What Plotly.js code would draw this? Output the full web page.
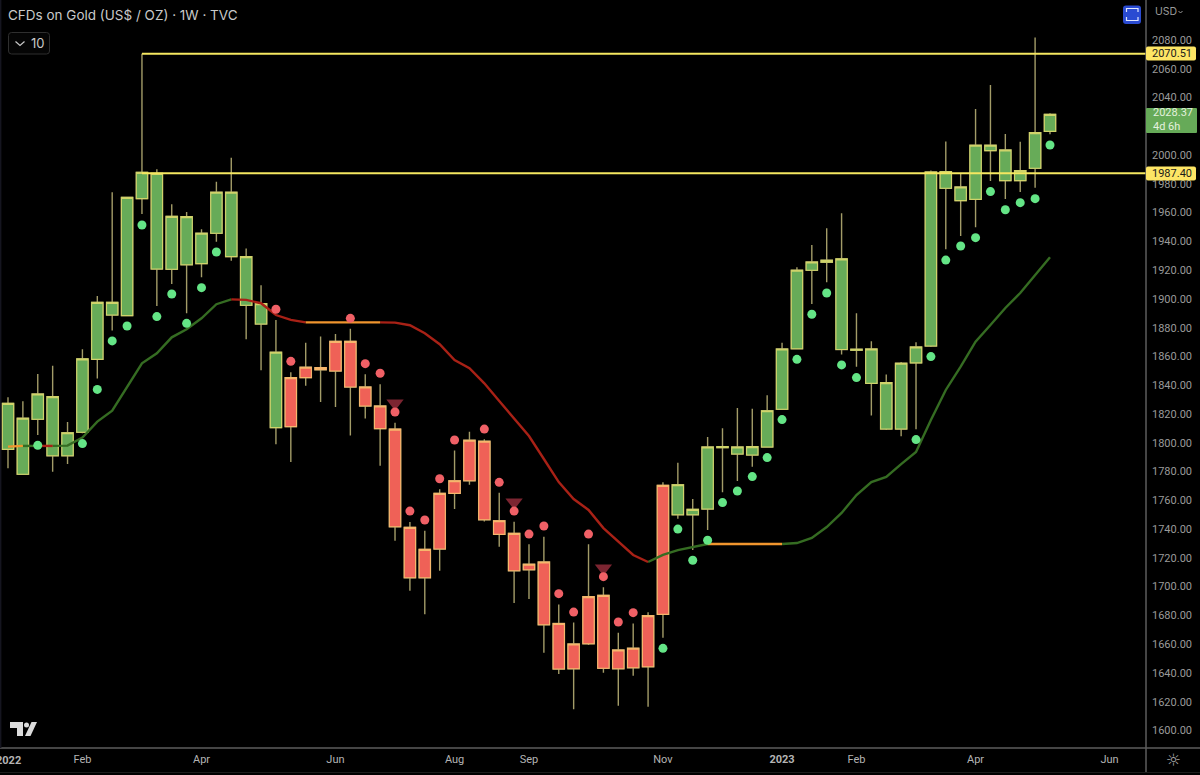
<!DOCTYPE html>
<html>
<head>
<meta charset="utf-8">
<script src="https://cdn.plot.ly/plotly-3.0.1.min.js"></script>
<style>html,body{margin:0;padding:0;background:#000;overflow:hidden}#chart{width:1200px;height:775px}</style>
</head>
<body>
<div id="chart"></div>
<script>
// Weekly candles, bar 0 .. 70, prices in US$
const bodyHigh = [1827.4,1817.0,1833.9,1832.1,1807.0,1858.3,1897.6,1897.6,1970.6,1988.0,1987.3,1957.4,1957.2,1945.6,1974.1,1974.1,1929.4,1896.7,1862.9,1845.3,1852.5,1852.2,1870.5,1870.5,1838.8,1825.6,1809.5,1741.2,1725.9,1764.8,1773.6,1801.7,1801.0,1745.8,1737.0,1715.5,1717.1,1674.4,1660.1,1693.0,1693.9,1655.9,1657.1,1679.8,1770.4,1770.8,1753.7,1797.1,1797.3,1797.1,1797.3,1822.3,1865.2,1919.9,1925.7,1926.9,1927.8,1865.0,1865.2,1841.8,1855.3,1866.6,1988.2,1988.5,1977.8,2006.8,2006.8,2003.5,1989.2,2015.6,2028.3];
const bodyLow = [1795.4,1778.1,1816.3,1791.0,1791.0,1807.3,1858.0,1888.8,1888.4,1969.7,1920.8,1920.6,1923.8,1924.5,1945.6,1929.4,1895.6,1882.6,1810.5,1811.2,1845.3,1850.8,1849.9,1838.8,1825.6,1809.8,1741.6,1706.2,1706.2,1726.1,1764.8,1773.6,1746.5,1736.3,1711.0,1711.7,1673.5,1642.7,1642.9,1660.3,1643.2,1642.9,1643.6,1644.3,1680.7,1750.0,1750.0,1754.0,1796.6,1792.2,1791.5,1797.1,1823.3,1865.4,1919.9,1925.5,1864.8,1864.3,1841.3,1809.6,1809.6,1855.5,1867.3,1976.9,1968.3,1969.2,2003.1,1982.2,1982.2,1990.8,2016.5];
const wickHigh = [1831.6,1828.8,1847.8,1853.6,1814.5,1865.0,1902.0,1974.1,1970.6,2070.51,1990.1,1965.8,1960.4,1948.4,1981.5,1998.2,1935.0,1909.5,1885.4,1849.0,1869.6,1873.8,1875.6,1879.3,1847.6,1840.6,1813.9,1744.9,1738.9,1767.6,1794.7,1807.7,1802.4,1765.3,1745.1,1729.4,1734.7,1687.6,1675.1,1729.4,1699.5,1667.9,1674.4,1682.1,1772.5,1786.1,1760.9,1804.0,1810.1,1824.2,1823.7,1833.0,1869.6,1922.0,1937.5,1949.1,1959.5,1890.0,1870.5,1847.4,1856.2,1869.9,1989.2,2009.5,1987.3,2032.0,2048.7,2014.6,2009.3,2081.8,2029.0];
const wickLow = [1782.2,1778.1,1805.4,1779.9,1785.3,1806.6,1844.6,1878.0,1888.4,1959.1,1895.1,1910.4,1890.0,1915.0,1939.8,1926.6,1871.9,1850.4,1798.9,1786.6,1839.7,1828.4,1824.9,1805.0,1816.8,1784.1,1731.9,1697.1,1680.7,1711.0,1753.9,1770.8,1745.3,1727.7,1688.6,1691.4,1654.0,1639.2,1614.7,1659.4,1640.1,1617.2,1638.1,1616.5,1664.5,1747.2,1725.4,1739.4,1765.6,1773.5,1783.4,1797.1,1823.3,1865.4,1896.5,1911.6,1861.3,1852.9,1818.9,1808.9,1804.5,1809.4,1866.5,1934.5,1943.7,1949.8,1982.0,1969.5,1974.3,1977.3,2014.4];
// Bars painted red by the indicator (first and last bar of the run)
const redRun = [19, 44];

// Moving-average line, one value per bar
const maValues = [1797.3,1797.8,1797.8,1797.8,1798.0,1803.6,1814.7,1822.3,1839.0,1855.2,1862.2,1873.3,1878.9,1886.5,1896.3,1899.7,1899.3,1897.0,1888.8,1885.4,1883.7,1883.7,1883.7,1883.7,1883.7,1883.7,1883.5,1881.7,1876.1,1868.5,1857.5,1851.8,1841.3,1829.0,1816.5,1804.7,1788.7,1772.7,1760.9,1753.3,1740.7,1731.7,1722.0,1717.1,1722.0,1725.4,1727.5,1729.6,1729.6,1729.6,1729.6,1729.6,1729.6,1730.3,1733.8,1741.4,1751.2,1763.7,1772.7,1776.2,1785.2,1793.6,1815.8,1836.7,1852.9,1870.3,1881.9,1893.7,1904.1,1916.1,1928.9];
const maGreenRuns = [[1,2],[3,15],[43,47],[52,70]];
const maRedRuns = [[2,3],[15,20],[25,43]];
const maOrangeRuns = [[0,1],[20,25],[47,52]];

// Indicator dots
const greenDotBars = [2,5,6,7,8,9,10,11,12,13,14,44,45,46,47,48,49,50,51,52,53,54,55,56,57,61,62,63,64,65,66,67,68,69,70];
const greenDotVals = [1798.2,1799.4,1837.1,1870.8,1881.2,1951.4,1887.7,1903.4,1883.0,1907.8,1932.6,1657.1,1740.0,1718.3,1732.2,1758.4,1766.5,1776.5,1789.7,1816.1,1858.0,1889.3,1904.1,1854.1,1845.3,1802.2,1859.9,1927.0,1936.8,1942.6,1974.6,1962.0,1966.9,1969.7,2007.0];
const redDotBars = [18,19,23,24,25,26,27,28,29,30,32,33,34,35,36,37,38,39,40,41,42];
const redDotVals = [1892.8,1856.6,1886.5,1855.0,1848.3,1821.4,1752.5,1746.3,1775.0,1801.9,1809.5,1772.5,1752.5,1736.5,1742.1,1695.1,1682.3,1736.5,1706.9,1675.4,1681.9];
// Dark triangles
const triangleBars = [26,34,40];
const triangleVals = [1827.4,1758.6,1712.7];

// Horizontal levels
const levelTop = 2070.51;
const levelBottom = 1987.40;
const levelStartBar = 9;
const lastPrice = "2028.37";
const countdown = "4d 6h";

// Axis labels (2020 sits behind the last-price tag in the reference, so it is not listed)
const xTickBars = [5,13,22,30,35,44,52,57,65,74];
const xTickLabels = ["Feb","Apr","Jun","Aug","Sep","Nov","<b>2023</b>","Feb","Apr","Jun"];
const firstYearLabel = "<b>2022</b>";
const yTicks = [1600,1620,1640,1660,1680,1700,1720,1740,1760,1780,1800,1820,1840,1860,1880,1900,1920,1940,1960,1980,2000,2040,2060,2080];

const bars = bodyHigh.map((_, i) => i);
const isRed = i => i >= redRun[0] && i <= redRun[1];

// Pixel helpers for the interface furniture (plot box is 1146 x 748)
const PW = 1146, PH = 748;
const px = x => x / PW, py = y => 1 - y / PH;
const pathOf = pts => pts.map((p, k) => (k ? "L" : "M") + px(p[0]) + "," + py(p[1])).join(" ");
function roundRect(x0, y0, x1, y1, r) {
  const P = (x, y) => px(x) + "," + py(y);
  return "M" + P(x0 + r, y0) + " L" + P(x1 - r, y0) + " Q" + P(x1, y0) + " " + P(x1, y0 + r) +
    " L" + P(x1, y1 - r) + " Q" + P(x1, y1) + " " + P(x1 - r, y1) +
    " L" + P(x0 + r, y1) + " Q" + P(x0, y1) + " " + P(x0, y1 - r) +
    " L" + P(x0, y0 + r) + " Q" + P(x0, y0) + " " + P(x0 + r, y0) + " Z";
}

function candle(idx, high, low, color, fill, width) {
  const style = {line: {color: color, width: width}, fillcolor: fill};
  return {
    type: "candlestick", x: idx,
    open: idx.map(i => bodyLow[i]), close: idx.map(i => bodyHigh[i]),
    high: idx.map(high), low: idx.map(low),
    increasing: style, decreasing: style,
    hoverinfo: "skip", showlegend: false
  };
}
function maRuns(runs, color) {
  return runs.map(r => ({
    type: "scatter", mode: "lines",
    x: bars.slice(r[0], r[1] + 1), y: maValues.slice(r[0], r[1] + 1),
    line: {color: color, width: 2.4}, hoverinfo: "skip", showlegend: false
  }));
}
function level(v) {
  return {type: "scatter", mode: "lines", x: [levelStartBar, 80], y: [v, v],
    line: {color: "#f5e760", width: 2}, hoverinfo: "skip", showlegend: false};
}
function dots(x, y, color, size, symbol) {
  return {type: "scatter", mode: "markers", x: x, y: y,
    marker: {color: color, size: size, symbol: symbol, line: {width: 0}},
    hoverinfo: "skip", showlegend: false};
}

const traces = [
  // wicks
  candle(bars, i => wickHigh[i], i => wickLow[i], "#a39c68", "rgba(0,0,0,0)", 1.4),
  ...maRuns(maGreenRuns, "#356c22"),
  ...maRuns(maRedRuns, "#a82116"),
  ...maRuns(maOrangeRuns, "#f0952e"),
  level(levelTop),
  level(levelBottom),
  // bodies
  candle(bars.filter(i => !isRed(i)), i => bodyHigh[i], i => bodyLow[i], "#d0d36a", "#67ab58", 1.1),
  candle(bars.filter(isRed), i => bodyHigh[i], i => bodyLow[i], "#f6b66c", "#ef6157", 1.1),
  dots(triangleBars, triangleVals, "#7c2531", 15, "triangle-down"),
  dots(greenDotBars, greenDotVals, "#64e586", 9, "circle"),
  dots(redDotBars, redDotVals, "#f06066", 9, "circle")
];

const paperLine = {xref: "paper", yref: "paper", type: "line"};
const box = {type: "path", xref: "paper", yref: "paper"};
const shapes = [
  // frame lines
  {...paperLine, x0: 0, x1: px(1200), y0: 0, y1: 0, line: {color: "#5c5c5c", width: 1.5}},
  {...paperLine, x0: 1, x1: 1, y0: py(772), y1: 1, line: {color: "#5c5c5c", width: 1.5}},
  {...paperLine, x0: 0, x1: px(1200), y0: py(772.5), y1: py(772.5), line: {color: "#1c1c1c", width: 1}},
  {...paperLine, x0: px(0.7), x1: px(0.7), y0: 0, y1: 1, line: {color: "#15151f", width: 1.4}},
  // last price and level tags
  {...box, path: roundRect(1146, 46.5, 1196, 60.5, 2), fillcolor: "#fde565", line: {width: 0}},
  {...box, path: roundRect(1146, 166.5, 1196, 180.5, 2), fillcolor: "#fde565", line: {width: 0}},
  {...box, path: roundRect(1146, 108, 1197, 133, 1), fillcolor: "#66aa58", line: {width: 0}},
  // interval button
  {...box, path: roundRect(8.5, 32.5, 49.5, 54, 3), fillcolor: "#050505", line: {color: "#2f2f2f", width: 1}},
  {...box, path: pathOf([[15.5,41.5],[20,45.5],[24.5,41.5]]), line: {color: "#c8c8c8", width: 1.2}},
  // currency chevron
  {...box, path: pathOf([[1178.5,11],[1180.5,13],[1182.5,11]]), line: {color: "#9a9a9a", width: 1}},
  // fullscreen button
  {...box, path: roundRect(1123, 5.5, 1141, 24, 3), fillcolor: "#2a4bd2", line: {width: 0}},
  {...box, path: pathOf([[1126.5,12],[1126.5,8.5],[1138,8.5],[1138,12]]), line: {color: "#dfe6ff", width: 1.2}},
  {...box, path: pathOf([[1126.5,17],[1126.5,20.5],[1138,20.5],[1138,17]]), line: {color: "#dfe6ff", width: 1.2}},
  // logo
  {...box, fillcolor: "#dcdcdc", line: {width: 0},
   path: pathOf([[10,722],[23,722],[23,736],[17,736],[17,728],[10,728]]) + " Z"},
  {type: "circle", xref: "paper", yref: "paper", x0: px(24), x1: px(29), y0: py(722.5), y1: py(727.5), fillcolor: "#dcdcdc", line: {width: 0}},
  {...box, fillcolor: "#dcdcdc", line: {width: 0},
   path: pathOf([[31.5,722],[37,722],[30.5,736],[25,736]]) + " Z"}
];

const label = (x, y, text, size, color, anchor, family) => ({
  xref: "paper", yref: "paper", x: px(x), y: py(y), text: text, showarrow: false,
  xanchor: anchor || "left", yanchor: "middle", borderpad: 0, borderwidth: 0, align: "left",
  font: {family: family || "Inter, Roboto, sans-serif", size: size, color: color}
});

const annotations = [
  label(8, 15, "CFDs on Gold (US$ / OZ) · 1W · TVC", 13.5, "#c9c9c9"),
  label(31, 43.5, "10", 13, "#c9c9c9"),
  label(1155, 12, "USD", 10.5, "#9a9a9a"),
  label(1172, 53.5, levelTop.toFixed(2), 11, "#1a1a1a", "center", "Roboto, sans-serif"),
  label(1172, 173.5, levelBottom.toFixed(2), 11, "#1a1a1a", "center", "Roboto, sans-serif"),
  label(1153, 120, lastPrice + "<br>" + countdown, 11, "#e4f1de", "left", "Roboto, sans-serif"),
  label(1173, 760, "☼", 17, "#a8a8a8", "center", "DejaVu Sans"),
  label(8, 760.5, firstYearLabel, 11, "#b4b4b4", "center", "Roboto, sans-serif")
];

const layout = {
  width: 1200, height: 775,
  margin: {l: 0, r: 54, t: 0, b: 27, pad: 0},
  paper_bgcolor: "#000", plot_bgcolor: "#000",
  showlegend: false, hovermode: false, dragmode: false,
  boxgap: 0.05, boxgroupgap: 0.2,
  xaxis: {
    range: [-0.537, 76.45], fixedrange: true, showgrid: false, zeroline: false,
    rangeslider: {visible: false}, showline: false,
    tickmode: "array", tickvals: xTickBars, ticktext: xTickLabels,
    ticklen: 0, ticklabelstandoff: 3, tickfont: {family: "Roboto, sans-serif", size: 11, color: "#b4b4b4"}
  },
  yaxis: {
    side: "right", range: [1587.8, 2107.8], fixedrange: true, showgrid: false, zeroline: false, showline: false,
    tickmode: "array", tickvals: yTicks, ticktext: yTicks.map(v => v.toFixed(2)),
    ticklen: 0, ticklabelstandoff: 5, tickfont: {family: "Roboto, sans-serif", size: 11, color: "#9a9a9a"}
  },
  shapes: shapes,
  annotations: annotations
};

Plotly.newPlot("chart", traces, layout, {staticPlot: true, displayModeBar: false});
</script>
</body>
</html>
